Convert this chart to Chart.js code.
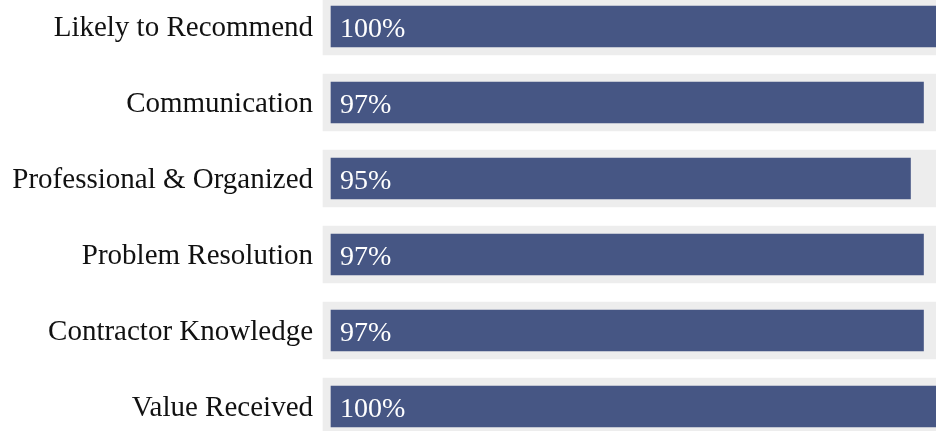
<!DOCTYPE html>
<html>
<head>
<meta charset="utf-8">
<script src="https://cdn.jsdelivr.net/npm/chart.js@4/dist/chart.umd.min.js"></script>
<style>
  html, body { margin: 0; padding: 0; background: #fff; overflow: hidden; }
  #wrap { width: 936px; height: 431px; overflow: hidden; }
</style>
</head>
<body>
<div id="wrap"><canvas id="chart" width="943" height="431"></canvas></div>
<script>
// ===== SATISFACTION BARS =====

const CATEGORIES = ['Likely to Recommend', 'Communication', 'Professional & Organized',
                    'Problem Resolution', 'Contractor Knowledge', 'Value Received'];
const SCORES = [100, 97, 95, 97, 97, 100];
const TRACK = [100, 100, 100, 100, 100, 100];

const BAR_COLOR = '#465684';
const TRACK_COLOR = '#ededed';
const FONT = "'Liberation Serif', 'Times New Roman', serif";

// value axis starts a little above zero, grey track pokes out 8px left of the bars
const X_MIN = 5.93;
const X_MAX = 100;
const TRACK_BASE = 4.7;

// white percentage text inside each bar
const valueLabels = {
  id: 'valueLabels',
  afterDatasetsDraw(chart) {
    const ctx = chart.ctx;
    const meta = chart.getDatasetMeta(0);
    ctx.save();
    ctx.fillStyle = '#fff';
    ctx.font = '28px ' + FONT;
    ctx.textAlign = 'left';
    ctx.textBaseline = 'alphabetic';
    meta.data.forEach((bar, i) => {
      ctx.fillText(SCORES[i] + '%', bar.base + 9, bar.y + 10.5);
    });
    ctx.restore();
  }
};

new Chart(document.getElementById('chart'), {
  type: 'bar',
  data: {
    labels: CATEGORIES,
    datasets: [
      { data: SCORES, backgroundColor: BAR_COLOR, barThickness: 41, grouped: false, base: X_MIN, clip: false },
      { data: TRACK, backgroundColor: TRACK_COLOR, barThickness: 57, grouped: false, base: TRACK_BASE, clip: false }
    ]
  },
  options: {
    indexAxis: 'y',
    responsive: false,
    animation: false,
    layout: { padding: { top: 26.5, bottom: 24.5, left: 0, right: 0 } },
    plugins: { legend: { display: false }, tooltip: { enabled: false } },
    scales: {
      x: { display: false, min: X_MIN, max: X_MAX },
      y: {
        offset: false,
        grid: { display: false, drawTicks: false },
        border: { display: false },
        ticks: { color: '#111', padding: 18, labelOffset: 2, font: { family: FONT, size: 29 } },
        afterFit(scale) {
          scale.width = 331;
          scale.paddingTop = 0;
          scale.paddingBottom = 0;
        }
      }
    }
  },
  plugins: [valueLabels]
});
</script>
</body>
</html>
